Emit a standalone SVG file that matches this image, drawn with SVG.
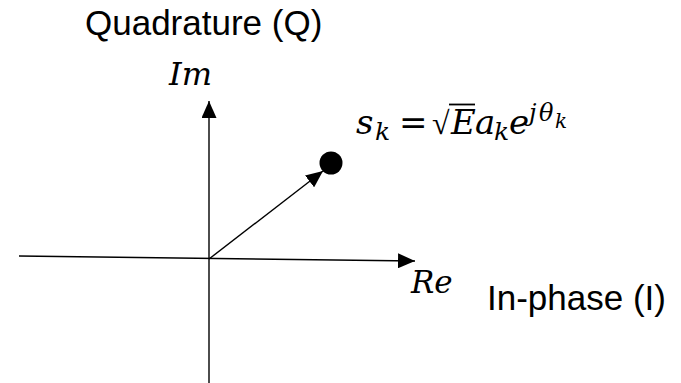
<svg xmlns="http://www.w3.org/2000/svg" width="681" height="383" viewBox="0 0 681 383">
  <defs>
    <marker id="arrow" markerUnits="userSpaceOnUse" markerWidth="17" markerHeight="15" refX="17" refY="7.5" orient="auto">
      <path d="M0,0 L17,7.5 L0,15 z" fill="#000"/>
    </marker>
    <style>
      .axis { stroke: #000; stroke-width: 1.4; fill: none; }
      .label { font-family: "Liberation Sans", Arial, sans-serif; font-size: 35px; fill: #000; }
      .math { font-family: "DejaVu Serif", "Liberation Serif", serif; font-style: italic; fill: #000; }
      .m { font-size: 34px; }
      .sub { font-size: 25px; }
      .sup { font-size: 24px; }
      .subsub { font-size: 20px; }
    </style>
  </defs>
  <rect width="681" height="383" fill="#fff"/>

  <g id="connectors">
    <line id="axis-re" class="axis" x1="19" y1="256" x2="415" y2="261" marker-end="url(#arrow)"/>
    <line id="axis-im" class="axis" x1="209" y1="383" x2="209" y2="101" marker-end="url(#arrow)"/>
    <line id="vector" class="axis" stroke-width="1.6" x1="209" y1="259" x2="323" y2="171" marker-end="url(#arrow)"/>
  </g>

  <g id="point">
    <circle cx="331" cy="163" r="11.5" fill="#000"/>
  </g>

  <g id="label-quadrature">
    <text class="label" x="85" y="35">Quadrature (Q)</text>
  </g>
  <g id="label-inphase">
    <text class="label" x="487" y="310">In-phase (I)</text>
  </g>
  <g id="label-im">
    <text class="math" x="169" y="85" font-size="32">Im</text>
  </g>
  <g id="label-re">
    <text class="math" x="411" y="293" font-size="31">Re</text>
  </g>

  <g id="equation">
    <text class="math m" x="356" y="134">s</text>
    <text class="math sub" x="375" y="140">k</text>
    <text class="math m" x="399" y="134" font-style="normal">=</text>
    <text x="432" y="134" font-family="Liberation Serif, serif" font-size="32" fill="#000">√</text>
    <line x1="449" y1="104.5" x2="475" y2="104.5" stroke="#000" stroke-width="1.8"/>
    <text class="math m" x="451" y="134">E</text>
    <text class="math m" x="475" y="134">a</text>
    <text class="math sub" x="494" y="140">k</text>
    <text class="math m" x="509" y="134">e</text>
    <text class="math sup" x="529" y="121">j</text>
    <text class="math sup" x="539" y="121">θ</text>
    <text class="math subsub" x="555" y="128">k</text>
  </g>
</svg>
